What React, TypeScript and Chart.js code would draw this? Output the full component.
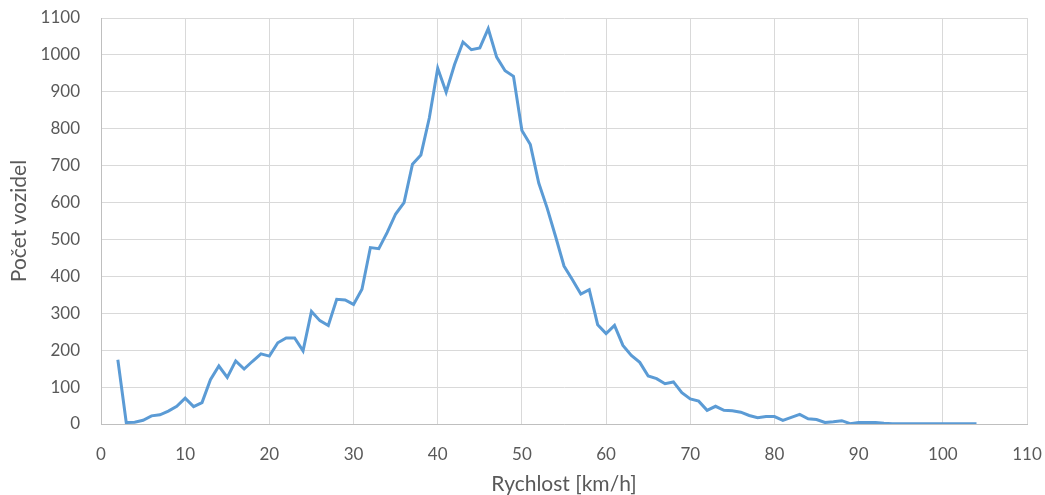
import React, { useEffect, useRef } from "react";
import { Chart, registerables } from "chart.js";

Chart.register(...registerables);

const speeds: number[] = [
  2, 3, 4, 5, 6, 7, 8, 9, 10, 11, 12, 13, 14, 15, 16, 17, 18, 19, 20, 21, 22, 23, 24, 25, 26, 27, 28, 29, 30,
  31, 32, 33, 34, 35, 36, 37, 38, 39, 40, 41, 42, 43, 44, 45, 46, 47, 48, 49, 50, 51, 52, 53, 54, 55, 56, 57,
  58, 59, 60, 61, 62, 63, 64, 65, 66, 67, 68, 69, 70, 71, 72, 73, 74, 75, 76, 77, 78, 79, 80, 81, 82, 83, 84,
  85, 86, 87, 88, 89, 90, 91, 92, 93, 94, 95, 96, 97, 98, 99, 100, 101, 102, 103, 104,
];

const counts: number[] = [
  174, 4, 5, 10, 22, 25, 35, 48, 70, 47, 58, 120, 157, 126, 171, 149, 170, 190, 184, 220, 233, 233, 198, 305,
  280, 267, 338, 336, 324, 365, 478, 475, 519, 569, 600, 704, 729, 829, 964, 899, 974, 1035, 1014, 1019, 1071,
  994, 957, 942, 795, 757, 653, 585, 508, 428, 391, 352, 364, 269, 245, 267, 213, 186, 167, 130, 123, 109, 114,
  85, 68, 62, 37, 48, 37, 36, 32, 23, 17, 20, 20, 10, 18, 26, 14, 12, 4, 6, 9, 1, 4, 4, 4, 2, 1, 1, 1, 1, 1, 1,
  1, 1, 1, 1, 1,
];

const xTitle = "Rychlost [km/h]";
const yTitle = "Počet vozidel";

export default function App() {
  const ref = useRef<HTMLCanvasElement | null>(null);

  useEffect(() => {
    if (!ref.current) return;
    const font = { family: "Lato", size: 17 };
    const titleFont = { family: "Lato", size: 21 };
    const chart = new Chart(ref.current, {
      type: "line",
      data: {
        datasets: [
          {
            data: speeds.map((x, i) => ({ x, y: counts[i] })),
            borderColor: "#5B9BD5",
            borderWidth: 3,
            pointRadius: 0,
            tension: 0,
            fill: false,
          },
        ],
      },
      options: {
        responsive: false,
        animation: false,
        layout: { padding: { top: 18, right: 18, left: 0, bottom: 0 } },
        plugins: { legend: { display: false }, tooltip: { enabled: false } },
        scales: {
          x: {
            type: "linear",
            min: 0,
            max: 110,
            ticks: { stepSize: 10, color: "#595959", font, padding: 20, callback: (v: any) => String(v) },
            grid: { color: "#D9D9D9", drawTicks: false, lineWidth: 1 },
            border: { color: "#BFBFBF", width: 1 },
            title: {
              display: true,
              text: xTitle,
              color: "#595959",
              font: titleFont,
              padding: { top: 0, bottom: -2 },
            },
            afterFit: (s: any) => {
              s.height = 495 - 424;
              s.paddingLeft = 0;
              s.paddingRight = 0;
            },
          },
          y: {
            min: 0,
            max: 1100,
            ticks: { stepSize: 100, color: "#595959", font, padding: 21, callback: (v: any) => String(v) },
            grid: { color: "#D9D9D9", drawTicks: false, lineWidth: 1 },
            border: { color: "#BFBFBF", width: 1 },
            title: {
              display: true,
              text: yTitle,
              color: "#595959",
              font: titleFont,
              padding: { top: 7, bottom: 0 },
            },
            afterFit: (s: any) => {
              s.width = 101;
              s.paddingTop = 0;
              s.paddingBottom = 0;
            },
          },
        },
      },
    });
    return () => chart.destroy();
  }, []);

  return (
    <div style={{ position: "fixed", left: 0, top: 0, width: 1045, height: 495, background: "#fff" }}>
      <canvas ref={ref} width={1045} height={495} />
    </div>
  );
}
